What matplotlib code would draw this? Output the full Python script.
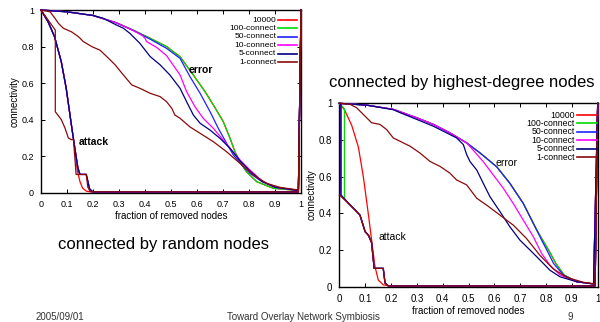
import matplotlib
matplotlib.use('Agg')
import matplotlib.pyplot as plt
from matplotlib.lines import Line2D
from matplotlib.ticker import FormatStrFormatter

plt.rcParams['font.family'] = ['Liberation Sans', 'DejaVu Sans']

series_labels = ['10000', '100-connect', '50-connect', '10-connect', '5-connect', '1-connect']
series_colors = ['#ff0000', '#00dd00', '#2020ff', '#ff00ff', '#000080', '#8b0a0a']

# ---- left: connected by random nodes ----
# error curves
l_err_10000_x = [0, 0.1, 0.2, 0.29, 0.355, 0.42, 0.483, 0.535, 0.586, 0.631, 0.663, 0.701, 0.727, 0.746, 0.765, 0.79, 0.83, 0.894, 0.99, 1.0]
l_err_10000_y = [1, 0.99, 0.97, 0.93, 0.89, 0.845, 0.8, 0.744, 0.644, 0.553, 0.48, 0.389, 0.298, 0.224, 0.17, 0.115, 0.06, 0.024, 0.012, 1.0]
l_err_100_x = [0, 0.1, 0.2, 0.29, 0.355, 0.42, 0.483, 0.535, 0.586, 0.631, 0.663, 0.701, 0.727, 0.746, 0.765, 0.79, 0.83, 0.894, 0.99, 1.0]
l_err_100_y = [1, 0.99, 0.97, 0.93, 0.89, 0.845, 0.8, 0.744, 0.644, 0.553, 0.48, 0.389, 0.298, 0.224, 0.17, 0.115, 0.06, 0.024, 0.012, 1.0]
l_err_50_x = [0, 0.1, 0.2, 0.29, 0.355, 0.42, 0.483, 0.535, 0.573, 0.612, 0.65, 0.682, 0.714, 0.74, 0.772, 0.804, 0.85, 0.9, 0.99, 1.0]
l_err_50_y = [1, 0.99, 0.97, 0.93, 0.888, 0.84, 0.79, 0.735, 0.635, 0.544, 0.444, 0.352, 0.27, 0.206, 0.152, 0.106, 0.06, 0.03, 0.012, 1.0]
l_err_10_x = [0, 0.1, 0.2, 0.29, 0.355, 0.39, 0.4, 0.406, 0.445, 0.483, 0.535, 0.56, 0.592, 0.624, 0.663, 0.695, 0.727, 0.765, 0.804, 0.85, 0.9, 0.99, 1.0]
l_err_10_y = [1, 0.99, 0.97, 0.93, 0.887, 0.86, 0.845, 0.827, 0.795, 0.75, 0.644, 0.553, 0.471, 0.407, 0.352, 0.298, 0.243, 0.18, 0.124, 0.065, 0.03, 0.012, 1.0]
l_err_5_x = [0, 0.1, 0.2, 0.24, 0.29, 0.317, 0.342, 0.38, 0.42, 0.458, 0.496, 0.535, 0.56, 0.586, 0.612, 0.65, 0.688, 0.727, 0.765, 0.804, 0.85, 0.9, 0.99, 1.0]
l_err_5_y = [1, 0.99, 0.97, 0.954, 0.918, 0.9, 0.872, 0.818, 0.745, 0.7, 0.644, 0.571, 0.498, 0.425, 0.38, 0.343, 0.298, 0.243, 0.175, 0.118, 0.062, 0.03, 0.012, 1.0]
l_err_1_x = [0, 0.035, 0.054, 0.067, 0.086, 0.118, 0.144, 0.163, 0.195, 0.227, 0.253, 0.285, 0.317, 0.349, 0.381, 0.42, 0.458, 0.483, 0.503, 0.515, 0.535, 0.573, 0.612, 0.663, 0.714, 0.765, 0.817, 0.868, 0.92, 0.99, 1.0]
l_err_1_y = [1, 0.99, 0.954, 0.927, 0.9, 0.88, 0.854, 0.827, 0.8, 0.78, 0.745, 0.7, 0.644, 0.59, 0.571, 0.544, 0.526, 0.498, 0.462, 0.425, 0.407, 0.36, 0.325, 0.279, 0.224, 0.161, 0.097, 0.051, 0.029, 0.015, 1.0]
# attack curves
l_att_10000_x = [0, 0.027, 0.052, 0.078, 0.097, 0.117, 0.13, 0.14, 0.15, 0.16, 0.175, 0.2, 0.99, 1.0]
l_att_10000_y = [1, 0.936, 0.854, 0.717, 0.571, 0.37, 0.24, 0.12, 0.06, 0.025, 0.008, 0.003, 0.003, 1.0]
l_att_k_x = [0, 0.027, 0.052, 0.078, 0.097, 0.117, 0.13, 0.142, 0.15, 0.174, 0.187, 0.2, 0.99, 1.0]
l_att_k_y = [1, 0.936, 0.854, 0.717, 0.571, 0.37, 0.245, 0.135, 0.1, 0.1, 0.02, 0.004, 0.004, 1.0]
l_att_1_x = [0, 0.02, 0.04, 0.055, 0.055, 0.065, 0.078, 0.092, 0.105, 0.117, 0.125, 0.135, 0.174, 0.18, 0.19, 0.99, 1.0]
l_att_1_y = [1, 0.96, 0.92, 0.89, 0.443, 0.425, 0.4, 0.355, 0.3, 0.29, 0.29, 0.1, 0.1, 0.03, 0.005, 0.004, 1.0]

# ---- right: connected by highest-degree nodes ----
r_err_10000_x = [0, 0.106, 0.209, 0.3, 0.364, 0.428, 0.493, 0.545, 0.609, 0.66, 0.712, 0.764, 0.787, 0.81, 0.838, 0.87, 0.919, 0.984, 1.0]
r_err_10000_y = [1, 0.99, 0.967, 0.921, 0.885, 0.839, 0.784, 0.729, 0.654, 0.564, 0.454, 0.309, 0.254, 0.2, 0.127, 0.064, 0.027, 0.015, 1.0]
r_err_100_x = [0, 0.106, 0.209, 0.3, 0.364, 0.428, 0.493, 0.545, 0.609, 0.66, 0.712, 0.764, 0.787, 0.81, 0.838, 0.87, 0.919, 0.984, 1.0]
r_err_100_y = [1, 0.99, 0.967, 0.921, 0.885, 0.839, 0.784, 0.729, 0.654, 0.564, 0.454, 0.309, 0.254, 0.2, 0.127, 0.064, 0.027, 0.015, 1.0]
r_err_50_x = [0, 0.106, 0.209, 0.3, 0.364, 0.428, 0.493, 0.545, 0.609, 0.66, 0.712, 0.764, 0.783, 0.803, 0.829, 0.867, 0.919, 0.984, 1.0]
r_err_50_y = [1, 0.99, 0.967, 0.921, 0.885, 0.839, 0.784, 0.729, 0.654, 0.564, 0.454, 0.309, 0.254, 0.2, 0.127, 0.064, 0.027, 0.015, 1.0]
r_err_10_x = [0, 0.106, 0.209, 0.3, 0.364, 0.428, 0.493, 0.506, 0.557, 0.596, 0.635, 0.673, 0.712, 0.751, 0.783, 0.815, 0.854, 0.919, 0.984, 1.0]
r_err_10_y = [1, 0.99, 0.967, 0.921, 0.885, 0.839, 0.784, 0.764, 0.682, 0.609, 0.536, 0.454, 0.363, 0.272, 0.181, 0.118, 0.064, 0.027, 0.015, 1.0]
r_err_5_x = [0, 0.106, 0.209, 0.235, 0.3, 0.364, 0.415, 0.454, 0.48, 0.493, 0.506, 0.532, 0.557, 0.583, 0.622, 0.66, 0.699, 0.738, 0.777, 0.815, 0.854, 0.919, 0.984, 1.0]
r_err_5_y = [1, 0.99, 0.965, 0.949, 0.912, 0.875, 0.839, 0.811, 0.775, 0.72, 0.682, 0.636, 0.564, 0.491, 0.409, 0.327, 0.254, 0.2, 0.145, 0.09, 0.054, 0.027, 0.015, 1.0]
r_err_1_x = [0, 0.041, 0.067, 0.086, 0.106, 0.125, 0.157, 0.183, 0.209, 0.235, 0.274, 0.312, 0.351, 0.39, 0.428, 0.454, 0.493, 0.532, 0.57, 0.622, 0.674, 0.725, 0.777, 0.828, 0.88, 0.945, 0.99, 1.0]
r_err_1_y = [1, 0.995, 0.976, 0.949, 0.921, 0.894, 0.885, 0.857, 0.811, 0.793, 0.766, 0.729, 0.683, 0.656, 0.619, 0.582, 0.555, 0.482, 0.445, 0.39, 0.335, 0.262, 0.17, 0.097, 0.051, 0.024, 0.015, 1.0]
r_att_10000_x = [0, 0.02, 0.048, 0.074, 0.093, 0.112, 0.125, 0.138, 0.151, 0.17, 0.2, 0.99, 1.0]
r_att_10000_y = [1, 0.965, 0.88, 0.76, 0.6, 0.4, 0.255, 0.11, 0.036, 0.01, 0.004, 0.004, 1.0]
# shared tail of the attack curves once they fall to 0.5
r_att_tail_x = [0.035, 0.06, 0.08, 0.1, 0.113, 0.125, 0.135, 0.17, 0.177, 0.19, 0.99, 1.0]
r_att_tail_y = [0.455, 0.42, 0.39, 0.3, 0.28, 0.24, 0.1, 0.1, 0.02, 0.004, 0.004, 1.0]
r_drop_100_x = 0.02
r_drop_k_x = 0.006

r_att_100_x = [0, r_drop_100_x, r_drop_100_x] + r_att_tail_x
r_att_100_y = [1, 0.97, 0.48] + r_att_tail_y
r_att_k_x = [0, r_drop_k_x, r_drop_k_x] + r_att_tail_x
r_att_k_y = [1, 0.995, 0.5] + r_att_tail_y
r_att_1_x = [0] + r_att_tail_x
r_att_1_y = [0.5] + r_att_tail_y

left_curves = [
    [(l_err_10000_x, l_err_10000_y), (l_att_10000_x, l_att_10000_y)],
    [(l_err_100_x, l_err_100_y), (l_att_k_x, l_att_k_y)],
    [(l_err_50_x, l_err_50_y), (l_att_k_x, l_att_k_y)],
    [(l_err_10_x, l_err_10_y), (l_att_k_x, l_att_k_y)],
    [(l_err_5_x, l_err_5_y), (l_att_k_x, l_att_k_y)],
    [(l_err_1_x, l_err_1_y), (l_att_1_x, l_att_1_y)],
]
right_curves = [
    [(r_err_10000_x, r_err_10000_y), (r_att_10000_x, r_att_10000_y)],
    [(r_err_100_x, r_err_100_y), (r_att_100_x, r_att_100_y)],
    [(r_err_50_x, r_err_50_y), (r_att_k_x, r_att_k_y)],
    [(r_err_10_x, r_err_10_y), (r_att_k_x, r_att_k_y)],
    [(r_err_5_x, r_err_5_y), (r_att_k_x, r_att_k_y)],
    [(r_err_1_x, r_err_1_y), (r_att_1_x, r_att_1_y)],
]

W, H = 600, 322
fig = plt.figure(figsize=(W / 100, H / 100), dpi=100)


def make_axes(box, curves, fs, leg_x, leg_y0, leg_dy, leg_fs, bold, err_pos, att_pos):
    ax = fig.add_axes(box)
    for (err, att), color in zip(curves, series_colors):
        for xs, ys in (err, att):
            ax.plot(xs, ys, color=color, lw=0.9, clip_on=False, zorder=3)
    ax.set_xlim(0, 1)
    ax.set_ylim(0, 1)
    ax.set_xticks([i / 10 for i in range(11)])
    ax.set_yticks([i / 5 for i in range(6)])
    ax.xaxis.set_major_formatter(FormatStrFormatter('%g'))
    ax.yaxis.set_major_formatter(FormatStrFormatter('%g'))
    ax.tick_params(direction='in', top=True, right=True, length=3, width=0.7,
                   labelsize=fs, pad=5)
    for sp in ax.spines.values():
        sp.set_linewidth(1.0)
    ax.set_xlabel('fraction of removed nodes', fontsize=7, labelpad=1.5)
    ax.set_ylabel('connectivity', fontsize=7, labelpad=1.5)
    # gnuplot-style key: right-aligned text, sample line on the right
    for i, (lab, color) in enumerate(zip(series_labels, series_colors)):
        y = leg_y0 - i * leg_dy
        ax.text(leg_x[0], y, lab, transform=ax.transAxes, ha='right', va='center',
                fontsize=leg_fs)
        ax.add_line(Line2D([leg_x[1], leg_x[2]], [y, y], transform=ax.transAxes,
                           color=color, lw=1.2, zorder=4))
    weight = 'bold' if bold else 'normal'
    ax.text(err_pos[0], err_pos[1], 'error', fontsize=7.5, fontweight=weight,
            ha='left', va='center')
    ax.text(att_pos[0], att_pos[1], 'attack', fontsize=7.5, fontweight=weight,
            ha='left', va='center')
    return ax


make_axes([41 / W, 1 - 192.7 / H, 260 / W, 182.7 / H], left_curves, 6.5,
          (0.905, 0.91, 0.983), 0.945, 0.0462, 6, True, (0.567, 0.674), (0.147, 0.279))
make_axes([339.3 / W, 1 - 286.7 / H, 258.4 / W, 183.4 / H], right_curves, 7,
          (0.912, 0.92, 0.997), 0.936, 0.046, 6.3, False, (0.603, 0.673), (0.151, 0.273))

fig.text(163.5 / W, 1 - 244 / H, 'connected by random nodes', ha='center', va='center', fontsize=12)
fig.text(461.5 / W, 1 - 82.7 / H, 'connected by highest-degree nodes', ha='center', va='center', fontsize=12)

fig.text(60 / W, 0.5 / H, '2005/09/01', ha='center', va='bottom', fontsize=7, color='#333333')
fig.text(303 / W, 0.5 / H, 'Toward Overlay Network Symbiosis', ha='center', va='bottom', fontsize=7, color='#333333')
fig.text(570 / W, 0.5 / H, '9', ha='center', va='bottom', fontsize=7, color='#333333')

fig.savefig('out.png', dpi=100)
